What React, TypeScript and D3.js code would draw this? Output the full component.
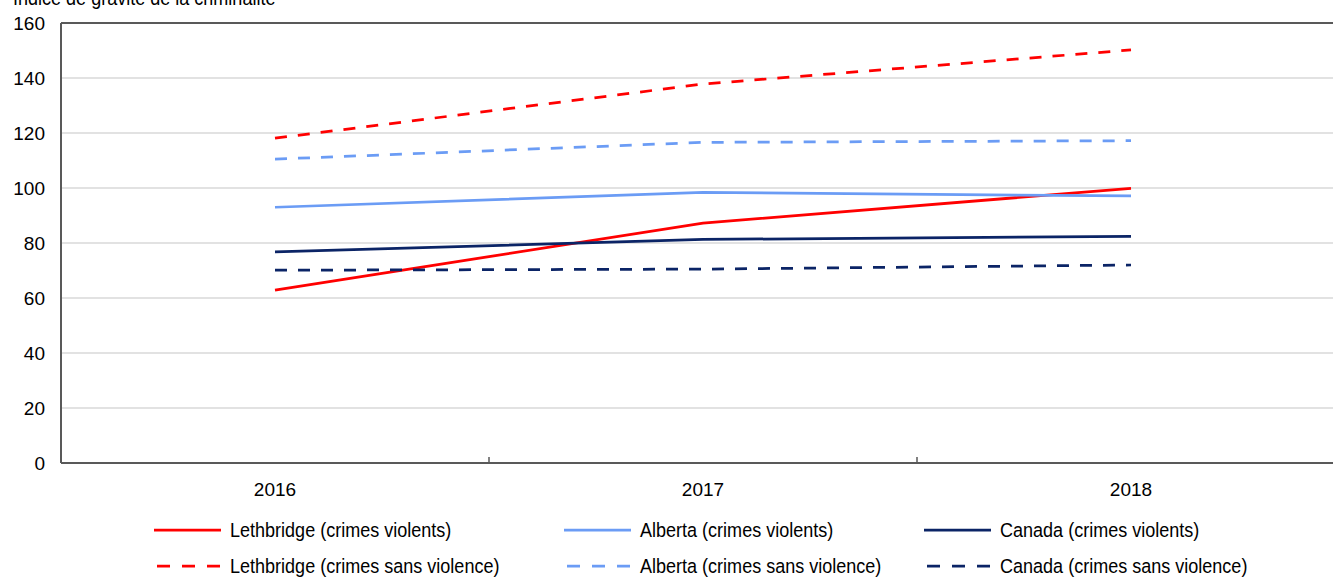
import React from "react";
import * as d3 from "d3";

const years = ["2016", "2017", "2018"];
const lethbridgeViolent = [62.9, 87.2, 99.9];
const lethbridgeNonViolent = [118.1, 137.8, 150.2];
const albertaViolent = [93.0, 98.4, 97.1];
const albertaNonViolent = [110.5, 116.6, 117.2];
const canadaViolent = [76.8, 81.3, 82.4];
const canadaNonViolent = [70.1, 70.5, 72.0];
const yTicks = [0, 20, 40, 60, 80, 100, 120, 140, 160];
const yTitle = "Indice de gravité de la criminalité";

const RED = "#ff0000";
const LIGHT = "#6b9cf5";
const NAVY = "#0b2466";

const series = [
  { label: "Lethbridge (crimes violents)", values: lethbridgeViolent, color: RED, dashed: false },
  { label: "Alberta (crimes violents)", values: albertaViolent, color: LIGHT, dashed: false },
  { label: "Canada (crimes violents)", values: canadaViolent, color: NAVY, dashed: false },
  { label: "Lethbridge (crimes sans violence)", values: lethbridgeNonViolent, color: RED, dashed: true },
  { label: "Alberta (crimes sans violence)", values: albertaNonViolent, color: LIGHT, dashed: true },
  { label: "Canada (crimes sans violence)", values: canadaNonViolent, color: NAVY, dashed: true },
];

const W = 1333;
const H = 577;
const FONT = "'Liberation Sans', Arial, Helvetica, sans-serif";
const SX = 0.925;
const FS = 19.5;

export default function App() {
  const left = 61;
  const top = 23;
  const bottom = 463;
  const band = 428;
  const x = d3.scaleBand<string>().domain(years).range([left, left + band * years.length]).padding(0);
  const y = d3.scaleLinear().domain([0, 160]).range([bottom, top]);
  const cx = (yr: string) => (x(yr) as number) + x.bandwidth() / 2;

  const line = d3
    .line<[string, number]>()
    .x((d) => cx(d[0]))
    .y((d) => y(d[1]));

  const right = left + band * years.length;
  const boundaries = d3.range(years.length + 1).map((i) => left + i * x.bandwidth());

  const legendCols = [154, 564, 924];
  const legendRows = [530, 566];
  const sampleLen = 67;

  return (
    <svg
      width={W}
      height={H}
      style={{ position: "fixed", left: 0, top: 0, background: "#fff" }}
      fontFamily={FONT}
    >
      <rect x={0} y={0} width={W} height={H} fill="#fff" />
      <g transform={`translate(13,5) scale(${SX},1)`}>
        <text x={0} y={0} fontSize={FS} fill="#000">
          {yTitle}
        </text>
      </g>
      {yTicks.map((t) => (
        <g key={t}>
          {t > 0 && t < 160 && (
            <line x1={left} x2={right} y1={y(t)} y2={y(t)} stroke="#d9d9d9" strokeWidth={1.5} />
          )}
          <text x={45} y={y(t)} dy="0.36em" textAnchor="end" fontSize={19} fill="#000">
            {t}
          </text>
        </g>
      ))}
      {boundaries.slice(1, -1).map((b, i) => (
        <line key={i} x1={b} x2={b} y1={bottom} y2={bottom - 6} stroke="#595959" strokeWidth={1.5} />
      ))}
      {years.map((yr) => (
        <text key={yr} x={cx(yr)} y={489} dy="0.36em" textAnchor="middle" fontSize={19} fill="#000">
          {yr}
        </text>
      ))}
      {series.map((s) => (
        <path
          key={s.label}
          d={line(years.map((yr, i) => [yr, s.values[i]]) as [string, number][]) || ""}
          fill="none"
          stroke={s.color}
          strokeWidth={2.75}
          strokeDasharray={s.dashed ? "12,11" : undefined}
        />
      ))}
      <line x1={left} x2={right} y1={top} y2={top} stroke="#595959" strokeWidth={2} />
      <line x1={left} x2={left} y1={top} y2={bottom} stroke="#595959" strokeWidth={2} />
      <line x1={left} x2={right} y1={bottom} y2={bottom} stroke="#595959" strokeWidth={2} />
      {series.map((s, i) => {
        const col = i % 3;
        const row = Math.floor(i / 3);
        const lx = legendCols[col];
        const ly = legendRows[row];
        return (
          <g key={s.label}>
            <line
              x1={lx + (s.dashed ? 3 : 0)}
              x2={lx + sampleLen}
              y1={ly}
              y2={ly}
              stroke={s.color}
              strokeWidth={2.75}
              strokeDasharray={s.dashed ? "13,12" : undefined}
            />
            <g transform={`translate(${lx + sampleLen + 9},${ly}) scale(${SX},1)`}>
              <text x={0} y={0} dy="0.36em" fontSize={FS} fill="#000">
                {s.label}
              </text>
            </g>
          </g>
        );
      })}
    </svg>
  );
}
